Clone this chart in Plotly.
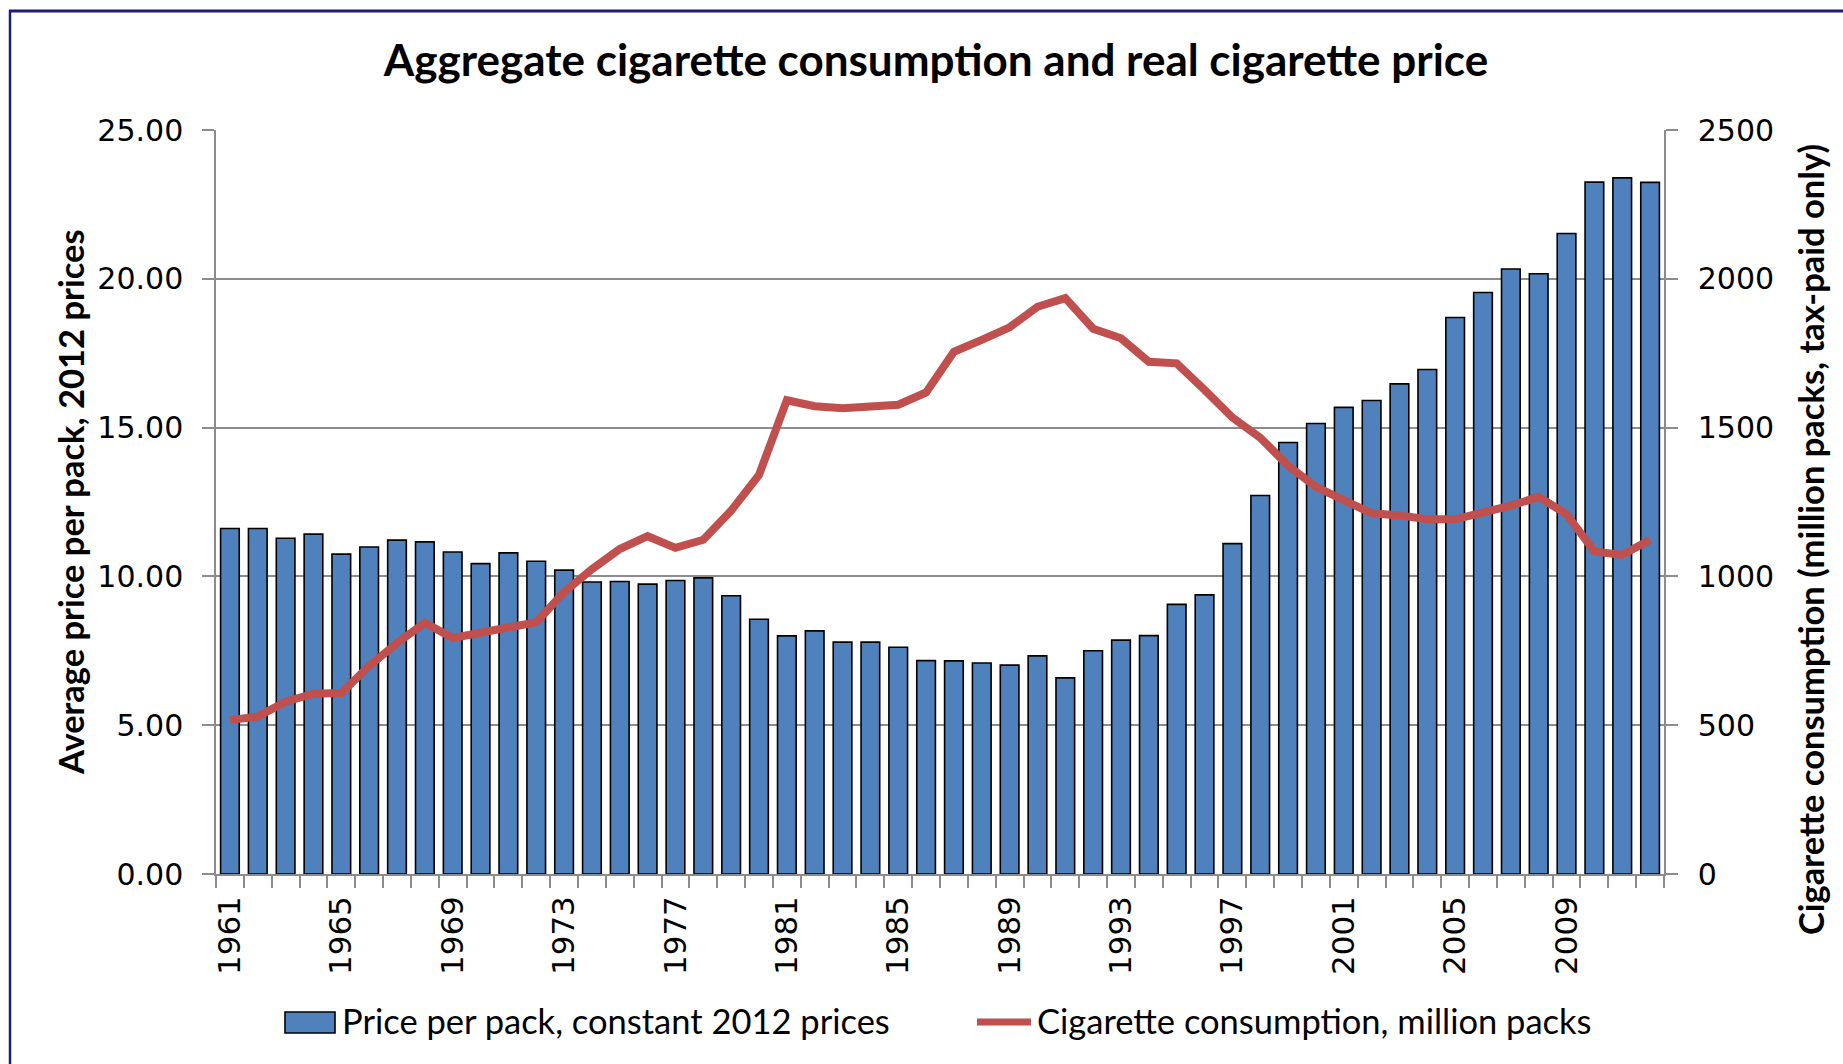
import plotly.graph_objects as go

# Annual series, 1961-2012
years = list(range(1961, 2013))

price_per_pack = [
    11.61, 11.61, 11.28, 11.42, 10.75, 10.99, 11.22, 11.16, 10.82, 10.43,
    10.79, 10.51, 10.21, 9.81, 9.83, 9.74, 9.86, 9.95, 9.35, 8.56,
    8.00, 8.17, 7.79, 7.79, 7.62, 7.17, 7.16, 7.09, 7.02, 7.33,
    6.59, 7.50, 7.86, 8.01, 9.06, 9.38, 11.10, 12.72, 14.50, 15.14,
    15.68, 15.91, 16.47, 16.95, 18.70, 19.54, 20.33, 20.17, 21.52, 23.25,
    23.39, 23.24,
]

consumption = [
    517, 529, 579, 606, 608, 699, 776, 844, 793, 810,
    830, 846, 947, 1024, 1092, 1135, 1096, 1123, 1221, 1341,
    1592, 1572, 1565, 1570, 1577, 1618, 1755, 1795, 1837, 1906,
    1935, 1832, 1800, 1721, 1716, 1627, 1534, 1466, 1372, 1301,
    1255, 1212, 1205, 1192, 1192, 1212, 1238, 1267, 1209, 1084,
    1072, 1123,
]

label_years = list(range(1961, 2013, 4))

title_text = "Aggregate cigarette consumption and real cigarette price"
left_title = "Average price per pack, 2012 prices"
right_title = "Cigarette consumption (million packs, tax-paid only)"
bar_name = "Price per pack, constant 2012 prices"
line_name = "Cigarette consumption, million packs"

W, H = 1843, 1064
ML, MR, MT, MB = 216, 179, 130, 190
PW = W - ML - MR
PH = H - MT - MB

BLUE = "#4F81BD"
RED = "#C0504D"
GRID = "#8C8C8C"
NAVY = "#1C1C78"


def px_x(px):
    return (px - ML) / PW


def px_y(py):
    return (H - MB - py) / PH


fig = go.Figure()

fig.add_trace(go.Bar(
    x=years, y=price_per_pack, name=bar_name,
    marker=dict(color=BLUE, line=dict(color="black", width=1.6)),
    showlegend=False,
))

fig.add_trace(go.Scatter(
    x=years, y=consumption, name=line_name, yaxis="y2",
    mode="lines", line=dict(color=RED, width=8),
    showlegend=False,
))

tick_font = dict(family="DejaVu Sans", size=30, color="black")

fig.update_layout(
    width=W, height=H,
    margin=dict(l=ML, r=MR, t=MT, b=MB, pad=0),
    paper_bgcolor="white", plot_bgcolor="white",
    bargap=0.33,
    title=dict(
        text=title_text, x=936 / W, xanchor="center",
        y=1 - 61 / H, yanchor="middle",
        font=dict(family="Lato", size=44, weight="bold", color="black"),
    ),
    xaxis=dict(
        range=[1960.5, 2012.5],
        tickmode="array", tickvals=label_years,
        ticktext=[str(y) for y in label_years],
        tickangle=-90, ticks="",
        ticklabelstandoff=8,
        tickfont=dict(family="DejaVu Sans", size=31, color="black"),
        showgrid=False, zeroline=False,
        showline=True, linecolor=GRID, linewidth=1.5,
        minor=dict(ticks="outside", ticklen=12, tickwidth=1.5,
                   tickcolor=GRID, tickmode="linear",
                   tick0=1960.5, dtick=1, showgrid=False),
    ),
    yaxis=dict(
        range=[0, 25], tickmode="linear", tick0=0, dtick=5,
        tickformat=".2f",
        ticks="outside", ticklen=12, tickwidth=1.5, tickcolor=GRID,
        ticklabelstandoff=13,
        tickfont=tick_font,
        showgrid=True, gridcolor=GRID, gridwidth=1.5,
        zeroline=False,
        showline=True, linecolor=GRID, linewidth=1.5,
    ),
    yaxis2=dict(
        range=[0, 2500], tickmode="linear", tick0=0, dtick=500,
        overlaying="y", side="right",
        ticks="outside", ticklen=12, tickwidth=1.5, tickcolor=GRID,
        ticklabelstandoff=14,
        tickfont=tick_font,
        showgrid=False, zeroline=False,
        showline=True, linecolor=GRID, linewidth=1.5,
    ),
)

axis_title_font = dict(family="Lato", size=34.5, weight="bold", color="black")
legend_font = dict(family="Lato", size=34.5, color="black")

annotations = [
    dict(text=left_title, x=px_x(70), y=px_y(502), xref="paper", yref="paper",
         xanchor="center", yanchor="middle", textangle=-90,
         showarrow=False, font=axis_title_font),
    dict(text=right_title, x=px_x(1810), y=px_y(540), xref="paper", yref="paper",
         xanchor="center", yanchor="middle", textangle=-90,
         showarrow=False, font=axis_title_font),
    dict(text=bar_name, x=px_x(340), y=px_y(1020), xref="paper", yref="paper",
         xanchor="left", yanchor="middle", showarrow=False, font=legend_font),
    dict(text=line_name, x=px_x(1035), y=px_y(1020), xref="paper", yref="paper",
         xanchor="left", yanchor="middle", showarrow=False, font=legend_font),
]

shapes = [
    # legend keys
    dict(type="rect", xref="paper", yref="paper",
         x0=px_x(285), x1=px_x(335), y0=px_y(1033), y1=px_y(1012),
         fillcolor=BLUE, line=dict(color="black", width=1.6)),
    dict(type="line", xref="paper", yref="paper",
         x0=px_x(977), x1=px_x(1031), y0=px_y(1022), y1=px_y(1022),
         line=dict(color=RED, width=7)),
    # chart frame edges
    dict(type="line", xref="paper", yref="paper",
         x0=px_x(9), x1=px_x(W), y0=px_y(11), y1=px_y(11),
         line=dict(color=NAVY, width=3)),
    dict(type="line", xref="paper", yref="paper",
         x0=px_x(10), x1=px_x(10), y0=px_y(10), y1=px_y(H),
         line=dict(color=NAVY, width=2.5)),
]

fig.update_layout(annotations=annotations, shapes=shapes)

fig.write_html("out.html")
